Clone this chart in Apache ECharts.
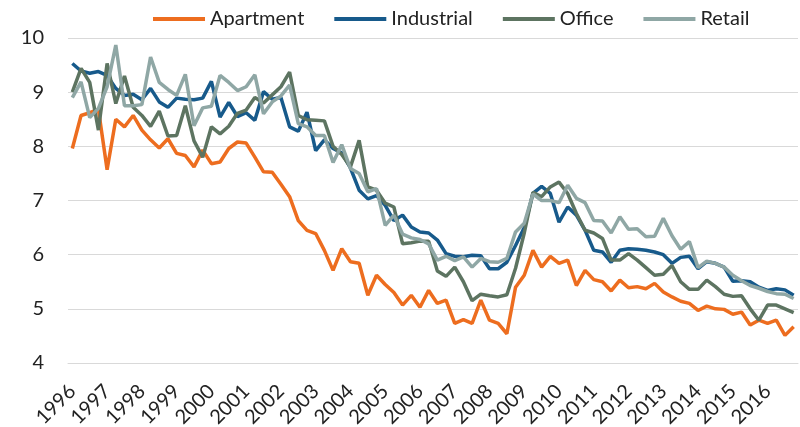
<!DOCTYPE html>
<html>
<head>
<meta charset="utf-8">
<script src="https://cdn.jsdelivr.net/npm/echarts@6/dist/echarts.min.js"></script>
<style>
  html, body { margin: 0; padding: 0; background: #fff; }
  #chart { width: 800px; height: 427px; }
</style>
</head>
<body>
<div id="chart"></div>
<script>
// quarterly yields, 1996 Q1 - 2016 Q4
const years = [1996, 1997, 1998, 1999, 2000, 2001, 2002, 2003, 2004, 2005, 2006,
  2007, 2008, 2009, 2010, 2011, 2012, 2013, 2014, 2015, 2016];

const apartment = [
  7.96, 8.57, 8.62, 8.68, 7.57, 8.50, 8.36, 8.57, 8.30, 8.12, 7.97, 8.14,
  7.87, 7.83, 7.62, 7.93, 7.68, 7.71, 7.96, 8.08, 8.06, 7.80, 7.53, 7.52,
  7.30, 7.07, 6.63, 6.45, 6.39, 6.08, 5.71, 6.11, 5.87, 5.84, 5.25, 5.62,
  5.45, 5.30, 5.07, 5.25, 5.03, 5.34, 5.10, 5.16, 4.73, 4.80, 4.73, 5.16,
  4.79, 4.73, 4.54, 5.40, 5.62, 6.08, 5.77, 5.97, 5.84, 5.90, 5.43, 5.71,
  5.54, 5.50, 5.33, 5.53, 5.39, 5.41, 5.37, 5.47, 5.31, 5.22, 5.14, 5.10,
  4.97, 5.05, 5.00, 4.99, 4.90, 4.94, 4.70, 4.79, 4.73, 4.79, 4.51, 4.67
];
const industrial = [
  9.53, 9.39, 9.35, 9.38, 9.31, 9.07, 8.94, 8.96, 8.86, 9.07, 8.82, 8.72,
  8.89, 8.87, 8.86, 8.89, 9.20, 8.54, 8.81, 8.55, 8.62, 8.48, 9.01, 8.87,
  8.90, 8.36, 8.28, 8.63, 7.92, 8.12, 7.96, 7.88, 7.60, 7.19, 7.03, 7.09,
  6.91, 6.63, 6.73, 6.51, 6.42, 6.40, 6.27, 6.02, 5.97, 5.96, 5.99, 5.98,
  5.74, 5.74, 5.86, 6.17, 6.50, 7.13, 7.26, 7.13, 6.60, 6.88, 6.73, 6.45,
  6.08, 6.05, 5.86, 6.08, 6.11, 6.10, 6.08, 6.05, 6.00, 5.84, 5.95, 5.97,
  5.74, 5.87, 5.84, 5.77, 5.51, 5.52, 5.50, 5.40, 5.34, 5.37, 5.35, 5.25
];
const office = [
  9.00, 9.44, 9.18, 8.30, 9.53, 8.79, 9.30, 8.72, 8.57, 8.37, 8.65, 8.19,
  8.20, 8.75, 8.10, 7.80, 8.36, 8.23, 8.37, 8.61, 8.67, 8.90, 8.80, 8.95,
  9.10, 9.37, 8.57, 8.49, 8.48, 8.47, 8.00, 7.85, 7.62, 8.11, 7.25, 7.19,
  6.95, 6.88, 6.20, 6.22, 6.25, 6.25, 5.70, 5.60, 5.77, 5.50, 5.15, 5.27,
  5.24, 5.22, 5.26, 5.75, 6.40, 7.15, 7.07, 7.25, 7.34, 7.13, 6.76, 6.45,
  6.40, 6.30, 5.90, 5.90, 6.02, 5.90, 5.76, 5.62, 5.64, 5.80, 5.50, 5.36,
  5.36, 5.53, 5.41, 5.27, 5.23, 5.24, 5.00, 4.79, 5.07, 5.07, 5.00, 4.93
];
const retail = [
  8.90, 9.19, 8.53, 8.70, 9.10, 9.87, 8.75, 8.75, 8.77, 9.65, 9.18, 9.05,
  8.94, 9.33, 8.38, 8.71, 8.74, 9.31, 9.18, 9.03, 9.10, 9.32, 8.60, 8.82,
  8.93, 9.13, 8.42, 8.36, 8.20, 8.20, 7.70, 8.03, 7.59, 7.50, 7.16, 7.22,
  6.54, 6.73, 6.38, 6.31, 6.28, 6.20, 5.90, 5.97, 5.89, 5.96, 5.77, 5.93,
  5.87, 5.86, 5.93, 6.42, 6.58, 7.12, 7.00, 7.00, 6.96, 7.28, 7.04, 6.96,
  6.63, 6.62, 6.40, 6.70, 6.47, 6.48, 6.33, 6.34, 6.67, 6.35, 6.10, 6.24,
  5.76, 5.88, 5.84, 5.77, 5.62, 5.52, 5.43, 5.38, 5.32, 5.28, 5.27, 5.19
];

const yTicks = { min: 4, max: 10, step: 1 };

// one category per quarter
const quarters = [];
years.forEach(function (y) {
  for (let q = 1; q <= 4; q++) quarters.push(y + ' Q' + q);
});

const chart = echarts.init(document.getElementById('chart'));
const font = 'Lato, "Open Sans", sans-serif';

function line(name, data, color) {
  return {
    name: name,
    type: 'line',
    data: data,
    showSymbol: false,
    lineStyle: { color: color, width: 3.5 },
    itemStyle: { color: color }
  };
}

chart.setOption({
  animation: false,
  textStyle: { fontFamily: font },
  legend: {
    left: 148,
    top: 4,
    icon: 'rect',
    itemWidth: 52,
    itemHeight: 4,
    itemGap: 30,
    textStyle: { fontSize: 20, color: '#222', fontFamily: font }
  },
  grid: { left: 68, right: 2, top: 38, bottom: 64, outerBoundsMode: 'none' },
  xAxis: {
    type: 'category',
    data: quarters,
    boundaryGap: true,
    axisLine: { lineStyle: { color: '#d9d9d9', width: 1 } },
    axisTick: { interval: 1, length: 7, lineStyle: { color: '#d9d9d9' } },
    axisLabel: {
      interval: 3,
      rotate: 45,
      margin: 25,
      fontSize: 20,
      color: '#222',
      fontFamily: font,
      formatter: function (v) { return v.slice(0, 4); }
    },
    splitLine: { show: false }
  },
  yAxis: {
    type: 'value',
    min: yTicks.min,
    max: yTicks.max,
    interval: yTicks.step,
    axisLine: { show: false },
    axisTick: { show: false },
    axisLabel: { fontSize: 20, color: '#222', margin: 24, fontFamily: font },
    splitLine: { lineStyle: { color: '#d9d9d9', width: 1 } }
  },
  series: [
    line('Apartment', apartment, '#ed6d1f'),
    line('Industrial', industrial, '#175a8b'),
    line('Office', office, '#5d7461'),
    line('Retail', retail, '#8fa7a5')
  ]
});
</script>
</body>
</html>
